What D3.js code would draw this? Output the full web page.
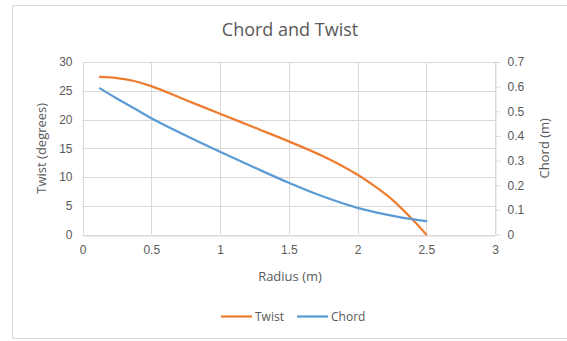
<!DOCTYPE html>
<html>
<head>
<meta charset="utf-8">
<script src="https://cdn.jsdelivr.net/npm/d3@7"></script>
<style>
  html, body { margin: 0; padding: 0; background: #fff; }
  svg { display: block; font-family: "Open Sans", "Noto Sans", sans-serif; }
</style>
</head>
<body>
<svg id="chart" width="567" height="341"></svg>
<script>
// Blade geometry along the radius
const radius = [0.127, 0.25, 0.375, 0.5, 0.75, 1.0, 1.25, 1.5, 1.75, 2.0, 2.125, 2.25, 2.4, 2.5];
const twist  = [27.4, 27.2, 26.7, 25.8, 23.4, 21.0, 18.6, 16.2, 13.6, 10.4, 8.4, 6.1, 2.6, 0];
const chord  = [0.593, 0.552, 0.512, 0.472, 0.402, 0.336, 0.272, 0.210, 0.154, 0.108, 0.091, 0.077, 0.062, 0.054];

const xTicks = [0, 0.5, 1, 1.5, 2, 2.5, 3];
const twistTicks = [0, 5, 10, 15, 20, 25, 30];
const chordTicks = [0, 0.1, 0.2, 0.3, 0.4, 0.5, 0.6, 0.7];

const seriesNames = ["Twist", "Chord"];
const seriesColors = ["#ED7D31", "#5B9BD5"];

const svg = d3.select("#chart");
const textColor = "#595959";
const gridColor = "#d9d9d9";

// chart border
svg.append("rect")
  .attr("x", 12.5).attr("y", 5.5)
  .attr("width", 560).attr("height", 333)
  .attr("fill", "#fff").attr("stroke", gridColor).attr("stroke-width", 1);

const plot = { left: 82.5, right: 495, top: 62, bottom: 234.5 };

const x = d3.scaleLinear().domain([0, 3]).range([plot.left, plot.right]);
const yL = d3.scaleLinear().domain([0, 30]).range([plot.bottom, plot.top]);
const yR = d3.scaleLinear().domain([0, 0.7]).range([plot.bottom, plot.top]);

// gridlines
svg.append("g").selectAll("line").data(twistTicks).join("line")
  .attr("x1", plot.left).attr("x2", plot.right)
  .attr("y1", d => Math.round(yL(d)) + 0.5).attr("y2", d => Math.round(yL(d)) + 0.5)
  .attr("stroke", gridColor).attr("stroke-width", 1);
svg.append("g").selectAll("line").data(xTicks).join("line")
  .attr("y1", plot.top).attr("y2", plot.bottom)
  .attr("x1", d => Math.round(x(d)) + 0.5).attr("x2", d => Math.round(x(d)) + 0.5)
  .attr("stroke", gridColor).attr("stroke-width", 1);

// bottom axis
const xAxis = svg.append("g")
  .attr("transform", `translate(0,${Math.round(plot.bottom) + 0.5})`)
  .call(d3.axisBottom(x).tickValues(xTicks).tickSize(0).tickPadding(10).tickFormat(d3.format("")));
xAxis.select(".domain").attr("stroke", gridColor);
xAxis.selectAll("text").attr("fill", textColor).style("font-size", "12px");

// left axis (labels only)
const yAxisL = svg.append("g")
  .attr("transform", `translate(${plot.left},0)`)
  .call(d3.axisLeft(yL).tickValues(twistTicks).tickSize(0).tickPadding(10));
yAxisL.select(".domain").remove();
yAxisL.selectAll("text").attr("fill", textColor).style("font-size", "12px");

// right axis with outward ticks
const yAxisR = svg.append("g")
  .attr("transform", `translate(${Math.round(plot.right) + 0.5},0)`)
  .call(d3.axisRight(yR).tickValues(chordTicks).tickSize(5).tickSizeOuter(0).tickPadding(7).tickFormat(d3.format("")));
yAxisR.select(".domain").attr("stroke", gridColor);
yAxisR.selectAll(".tick line").attr("stroke", gridColor);
yAxisR.selectAll("text").attr("fill", textColor).style("font-size", "12px");

// series lines
const twistLine = d3.line()
  .x((d, i) => x(radius[i])).y(d => yL(d))
  .curve(d3.curveCatmullRom.alpha(0.5));
const chordLine = d3.line()
  .x((d, i) => x(radius[i])).y(d => yR(d))
  .curve(d3.curveCatmullRom.alpha(0.5));

svg.append("path").datum(twist).attr("d", twistLine)
  .attr("fill", "none").attr("stroke", seriesColors[0])
  .attr("stroke-width", 2.25).attr("stroke-linecap", "round");
svg.append("path").datum(chord).attr("d", chordLine)
  .attr("fill", "none").attr("stroke", seriesColors[1])
  .attr("stroke-width", 2.25).attr("stroke-linecap", "round");

// title
svg.append("text")
  .attr("x", 290).attr("y", 35.5).attr("text-anchor", "middle")
  .attr("fill", textColor).style("font-size", "18px")
  .text("Chord and Twist");

// axis titles
svg.append("text")
  .attr("x", 290).attr("y", 281).attr("text-anchor", "middle")
  .attr("fill", textColor).style("font-size", "13px")
  .text("Radius (m)");
svg.append("text")
  .attr("transform", `translate(46,${(plot.top + plot.bottom) / 2}) rotate(-90)`)
  .attr("text-anchor", "middle")
  .attr("fill", textColor).style("font-size", "13px")
  .text("Twist (degrees)");
svg.append("text")
  .attr("transform", `translate(549,${(plot.top + plot.bottom) / 2}) rotate(-90)`)
  .attr("text-anchor", "middle")
  .attr("fill", textColor).style("font-size", "13px")
  .text("Chord (m)");

// legend
const legendX = [221, 297];
const legend = svg.append("g").selectAll("g").data(seriesNames).join("g")
  .attr("transform", (d, i) => `translate(${legendX[i]},316.5)`);
legend.append("line")
  .attr("x1", 0).attr("x2", 31).attr("y1", 0).attr("y2", 0)
  .attr("stroke", (d, i) => seriesColors[i]).attr("stroke-width", 2.25);
legend.append("text")
  .attr("x", 34).attr("y", 4.5)
  .attr("fill", textColor).style("font-size", "12px")
  .text(d => d);
</script>
</body>
</html>
